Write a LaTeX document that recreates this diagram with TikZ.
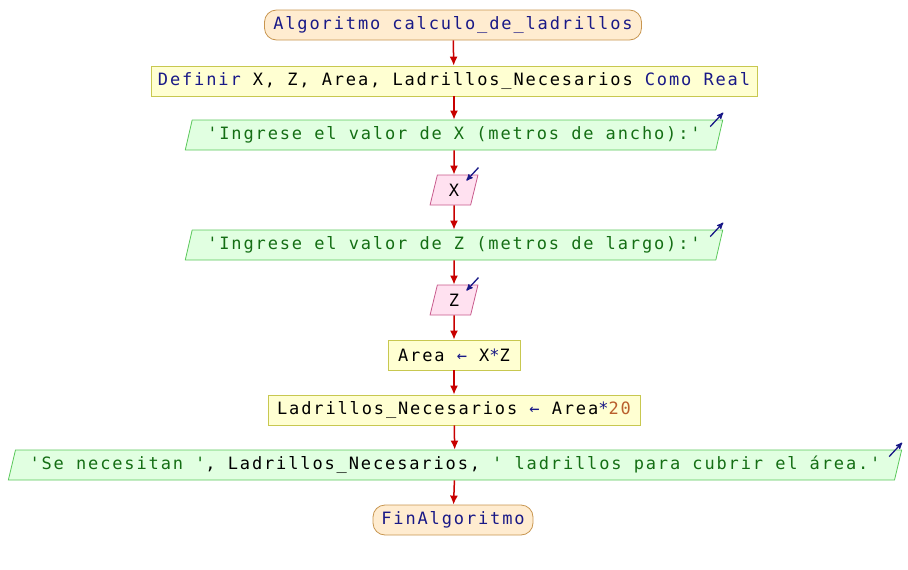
\documentclass[tikz,border=0pt]{standalone}
\usepackage{fontspec}
\usepackage{tikz}
\usetikzlibrary{arrows,arrows.meta,shapes.geometric}
\newfontfamily\pseint[LetterSpace=11,Ligatures=TeXOff]{DejaVu Sans Mono}
\definecolor{kw_blue}{RGB}{25,25,135}
\definecolor{str_green}{RGB}{20,110,20}
\definecolor{num_brown}{RGB}{185,95,45}
\definecolor{edge_red}{RGB}{200,0,0}
\definecolor{term_fill}{RGB}{255,236,208}
\definecolor{term_edge}{RGB}{200,150,80}
\definecolor{proc_fill}{RGB}{255,255,210}
\definecolor{proc_edge}{RGB}{200,200,80}
\definecolor{out_fill}{RGB}{225,255,225}
\definecolor{out_edge}{RGB}{90,200,90}
\definecolor{in_fill}{RGB}{255,225,240}
\definecolor{in_edge}{RGB}{200,90,140}
\newcommand{\kw}[1]{\textcolor{kw_blue}{#1}}
\newcommand{\strtxt}[1]{\textcolor{str_green}{#1}}
\newcommand{\numtxt}[1]{\textcolor{num_brown}{#1}}

\begin{document}
\begin{tikzpicture}[x=1pt,y=-1pt]
    \tikzstyle{node}=[font=\pseint\fontsize{17}{20}\selectfont, minimum height=30pt, inner xsep=7pt, inner ysep=2pt, line width=0.8pt, text=black]
    \tikzstyle{term}=[style=node, rectangle, rounded corners=12pt, fill=term_fill, draw=term_edge, text=kw_blue]
    \tikzstyle{proc}=[style=node, rectangle, fill=proc_fill, draw=proc_edge]
    \tikzstyle{outp}=[style=node, trapezium, trapezium left angle=72, trapezium right angle=108, trapezium stretches=true, fill=out_fill, draw=out_edge]
    \tikzstyle{inp}=[style=node, trapezium, trapezium left angle=72, trapezium right angle=108, trapezium stretches=true, fill=in_fill, draw=in_edge, minimum width=48pt]
    \tikzstyle{flow}=[draw=edge_red, line width=1.5pt, -{Latex[length=9pt,width=8pt]}]
    \tikzstyle{io}=[draw=kw_blue, line width=1.3pt, ->, >=stealth']

    \useasboundingbox (0,0) rectangle (908,570);

    \node[term, minimum width=377pt] (start) at (453,25)  {Algoritmo calculo\_de\_ladrillos};
    \node[proc] (def)  at (454,81)  {\kw{Definir} X, Z, Area, Ladrillos\_Necesarios \kw{Como} \kw{Real}};
    \node[outp, minimum width=541pt] (outx) at (454,135) {\strtxt{'Ingrese el valor de X (metros de ancho):'}};
    \node[inp]  (inx)  at (454,190) {X};
    \node[outp, minimum width=541pt] (outz) at (454,245) {\strtxt{'Ingrese el valor de Z (metros de largo):'}};
    \node[inp]  (inz)  at (454,300) {Z};
    \node[proc, minimum width=132pt] (area) at (454,355) {Area \kw{←} X\kw{*}Z};
    \node[proc, minimum width=372pt] (ladr) at (454,410) {Ladrillos\_Necesarios \kw{←} Area\kw{*}\numtxt{20}};
    \node[outp, minimum width=900pt] (outr) at (455,465) {\strtxt{'Se necesitan '}, Ladrillos\_Necesarios, \strtxt{' ladrillos para cubrir el área.'}};
    \node[term, minimum width=160pt] (fin) at (453,520) {FinAlgoritmo};

    \path
     (start) edge[flow] (def)
     (def)   edge[flow] (outx)
     (outx)  edge[flow] (inx)
     (inx)   edge[flow] (outz)
     (outz)  edge[flow] (inz)
     (inz)   edge[flow] (area)
     (area)  edge[flow] (ladr)
     (ladr)  edge[flow] (outr)
     (outr)  edge[flow] (fin)
     ;

    % small io marks
    \draw[io] ([shift={(-13,7)}]outx.top right corner) -- ([shift={(0,-7)}]outx.top right corner);
    \draw[io] ([shift={(-13,7)}]outz.top right corner) -- ([shift={(0,-7)}]outz.top right corner);
    \draw[io] ([shift={(-13,7)}]outr.top right corner) -- ([shift={(0,-7)}]outr.top right corner);
    \draw[io] ([shift={(0,-7)}]inx.top right corner) -- ([shift={(-12,6)}]inx.top right corner);
    \draw[io] ([shift={(0,-7)}]inz.top right corner) -- ([shift={(-12,6)}]inz.top right corner);
\end{tikzpicture}
\end{document}
